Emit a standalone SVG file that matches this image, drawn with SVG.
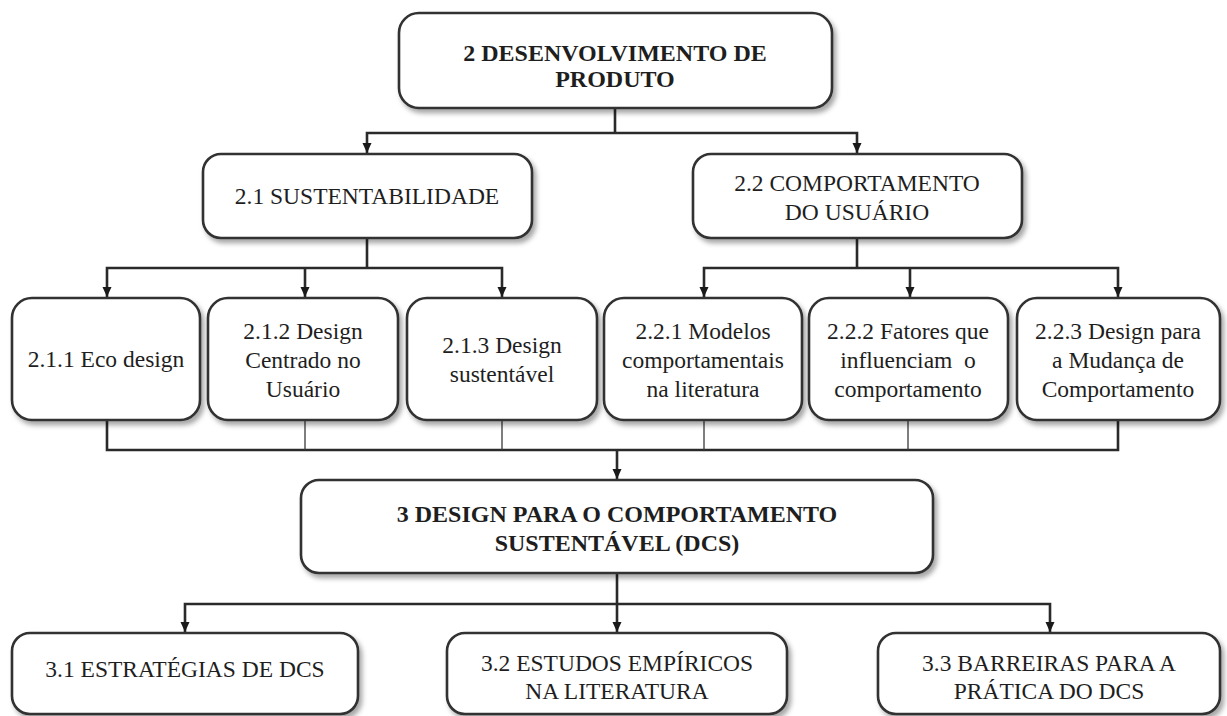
<svg xmlns="http://www.w3.org/2000/svg" width="1227" height="716" viewBox="0 0 1227 716">
  <style>
    .box { fill: #ffffff; stroke: #303030; stroke-width: 2.6; filter: url(#shadow); }
    .t { font-family: 'Liberation Serif', Tinos, 'Times New Roman', 'DejaVu Serif', serif; font-size: 23.5px; fill: #1e1e1e; text-anchor: middle; }
    .b { font-weight: bold; font-size: 24px; }
    .ln { fill: none; stroke: #2a2a2a; stroke-width: 2.6; }
    .thin { fill: none; stroke: #3a3a3a; stroke-width: 1.3; }
    .arr { marker-end: url(#head); }
  </style>
  <defs>
    <filter id="shadow" x="-10%" y="-10%" width="125%" height="135%">
      <feDropShadow dx="3" dy="4" stdDeviation="2.5" flood-color="#000000" flood-opacity="0.35"/>
    </filter>
    <marker id="head" markerUnits="userSpaceOnUse" markerWidth="10" markerHeight="10" refX="10" refY="4.5" orient="auto">
      <path d="M0,0 L10,4.5 L0,9 z" fill="#1a1a1a"/>
    </marker>
  </defs>

  <rect width="1227" height="716" fill="#ffffff"/>

  <!-- connectors -->
  <g id="connectors">
    <path class="ln" d="M615,108 V133"/>
    <path class="ln arr" d="M615,133 H367 V153"/>
    <path class="ln arr" d="M615,133 H857 V153"/>

    <path class="ln" d="M367,238 V268"/>
    <path class="ln arr" d="M367,268 H107 V297"/>
    <path class="ln arr" d="M305,268 V297"/>
    <path class="ln arr" d="M367,268 H502 V297"/>

    <path class="ln" d="M857,238 V268"/>
    <path class="ln arr" d="M857,268 H704 V297"/>
    <path class="ln arr" d="M910,268 V297"/>
    <path class="ln arr" d="M857,268 H1118 V297"/>

    <path class="ln" d="M107,420 V450 H1118 V420"/>
    <path class="thin" d="M305,420 V450 M502,420 V450 M704,420 V450 M908,420 V450"/>
    <path class="ln arr" d="M617,450 V479"/>

    <path class="ln arr" d="M617,573 V632"/>
    <path class="ln arr" d="M617,604 H185 V632"/>
    <path class="ln arr" d="M617,604 H1050 V632"/>
  </g>

  <!-- level 1 -->
  <g id="n2">
    <rect class="box" x="399" y="13" width="433" height="95" rx="20"/>
    <text class="t b" x="615" y="61">2 DESENVOLVIMENTO DE</text>
    <text class="t b" x="615" y="87">PRODUTO</text>
  </g>

  <!-- level 2 -->
  <g id="n21">
    <rect class="box" x="203" y="154" width="329" height="84" rx="18"/>
    <text class="t" x="367" y="204">2.1 SUSTENTABILIDADE</text>
  </g>
  <g id="n22">
    <rect class="box" x="693" y="154" width="329" height="84" rx="18"/>
    <text class="t" x="857" y="191">2.2 COMPORTAMENTO</text>
    <text class="t" x="857" y="220">DO USUÁRIO</text>
  </g>

  <!-- level 3 -->
  <g id="n211">
    <rect class="box" x="12" y="298" width="188" height="122" rx="20"/>
    <text class="t" x="106" y="367">2.1.1 Eco design</text>
  </g>
  <g id="n212">
    <rect class="box" x="208" y="298" width="190" height="122" rx="20"/>
    <text class="t" x="303" y="339">2.1.2 Design</text>
    <text class="t" x="303" y="368">Centrado no</text>
    <text class="t" x="303" y="397">Usuário</text>
  </g>
  <g id="n213">
    <rect class="box" x="407" y="298" width="190" height="122" rx="20"/>
    <text class="t" x="502" y="353">2.1.3 Design</text>
    <text class="t" x="502" y="382">sustentável</text>
  </g>
  <g id="n221">
    <rect class="box" x="604" y="298" width="198" height="122" rx="20"/>
    <text class="t" x="703" y="339">2.2.1 Modelos</text>
    <text class="t" x="703" y="368">comportamentais</text>
    <text class="t" x="703" y="397">na literatura</text>
  </g>
  <g id="n222">
    <rect class="box" x="809" y="298" width="199" height="122" rx="20"/>
    <text class="t" x="908" y="339">2.2.2 Fatores que</text>
    <text class="t" x="908" y="368" style="white-space:pre">influenciam  o</text>
    <text class="t" x="908" y="397">comportamento</text>
  </g>
  <g id="n223">
    <rect class="box" x="1017" y="298" width="203" height="122" rx="20"/>
    <text class="t" x="1118" y="339">2.2.3 Design para</text>
    <text class="t" x="1118" y="368">a Mudança de</text>
    <text class="t" x="1118" y="397">Comportamento</text>
  </g>

  <!-- level 4 -->
  <g id="n3">
    <rect class="box" x="301" y="480" width="632" height="93" rx="18"/>
    <text class="t b" x="617" y="522">3 DESIGN PARA O COMPORTAMENTO</text>
    <text class="t b" x="617" y="551">SUSTENTÁVEL (DCS)</text>
  </g>

  <!-- level 5 -->
  <g id="n31">
    <rect class="box" x="12" y="633" width="346" height="81" rx="18"/>
    <text class="t" x="185" y="677">3.1 ESTRATÉGIAS DE DCS</text>
  </g>
  <g id="n32">
    <rect class="box" x="447" y="633" width="340" height="81" rx="18"/>
    <text class="t" x="617" y="671">3.2 ESTUDOS EMPÍRICOS</text>
    <text class="t" x="617" y="699">NA LITERATURA</text>
  </g>
  <g id="n33">
    <rect class="box" x="878" y="633" width="342" height="81" rx="18"/>
    <text class="t" x="1049" y="671">3.3 BARREIRAS PARA A</text>
    <text class="t" x="1049" y="699">PRÁTICA DO DCS</text>
  </g>
</svg>
